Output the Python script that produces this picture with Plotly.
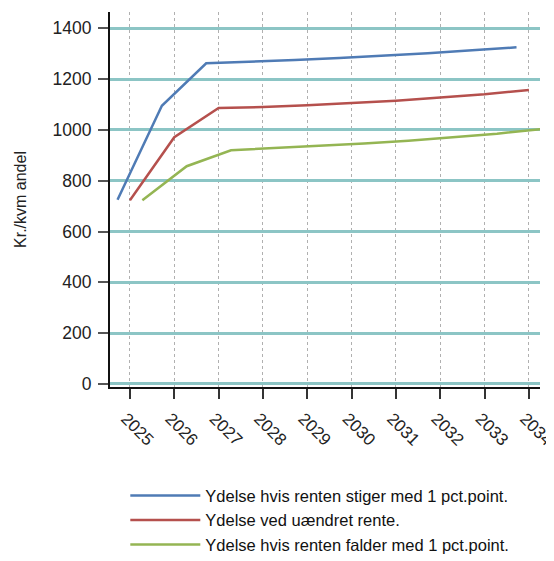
import plotly.graph_objects as go

years = [2025, 2026, 2027, 2028, 2029, 2030, 2031, 2032, 2033, 2034]
stiger = [725, 1095, 1262, 1268, 1275, 1283, 1292, 1302, 1313, 1325]
uaendret = [723, 971, 1086, 1090, 1097, 1105, 1115, 1127, 1140, 1157]
falder = [723, 857, 920, 928, 937, 946, 957, 970, 985, 1003]

names = [
    "Ydelse hvis renten stiger med 1 pct.point.",
    "Ydelse ved uændret rente.",
    "Ydelse hvis renten falder med 1 pct.point.",
]
colors = ["#4f7bb5", "#b5504d", "#94b553"]
series = [stiger, uaendret, falder]

fig = go.Figure()
for i, (nm, vals, col) in enumerate(zip(names, series, colors)):
    fig.add_trace(go.Scatter(
        x=years, y=vals, name=nm, mode="lines",
        line=dict(color=col, width=2.5),
        offsetgroup=str(i),
    ))

font = "Liberation Sans, Arial, sans-serif"
# page body has an 8px margin, so the figure is drawn 8px in from the corner
fig.update_layout(
    width=546, height=553,
    margin=dict(l=102, r=14, t=4, b=174, autoexpand=False),
    paper_bgcolor="white", plot_bgcolor="white",
    scattermode="group", scattergap=0.16,
    font=dict(family=font, size=15, color="#222"),
    showlegend=True,
    legend=dict(x=0.0356, y=-0.2435,
                xanchor="left", yanchor="top",
                font=dict(size=16.5, color="#111"), itemwidth=70,
                tracegroupgap=0, bgcolor="rgba(0,0,0,0)"),
)
fig.update_xaxes(
    range=[2024.55, 2034.25], automargin=False,
    tickmode="array", tickvals=years, ticktext=[str(y) for y in years],
    tickangle=45, ticks="outside", ticklen=10, tickwidth=1.5, tickcolor="#333",
    ticklabeloverflow="allow", ticklabelshift=-4, ticklabelstandoff=3,
    showline=True, linecolor="#111", linewidth=2,
    showgrid=True, gridcolor="#b0b0b0", gridwidth=1, griddash="dot",
    zeroline=False, tickfont=dict(size=17, color="#222"),
)
fig.update_yaxes(
    range=[-12, 1464], automargin=False,
    tickvals=[0, 200, 400, 600, 800, 1000, 1200, 1400],
    ticks="outside", ticklen=10, tickwidth=2, tickcolor="#555",
    ticklabelstandoff=3,
    showline=True, linecolor="#111", linewidth=2,
    showgrid=True, gridcolor="#8cc5c5", gridwidth=2.5,
    zeroline=False, tickfont=dict(size=17.5, color="#222"),
    title=dict(text="Kr./kvm andel", font=dict(size=16, color="#222"), standoff=22),
)
fig.write_html("out.html")
